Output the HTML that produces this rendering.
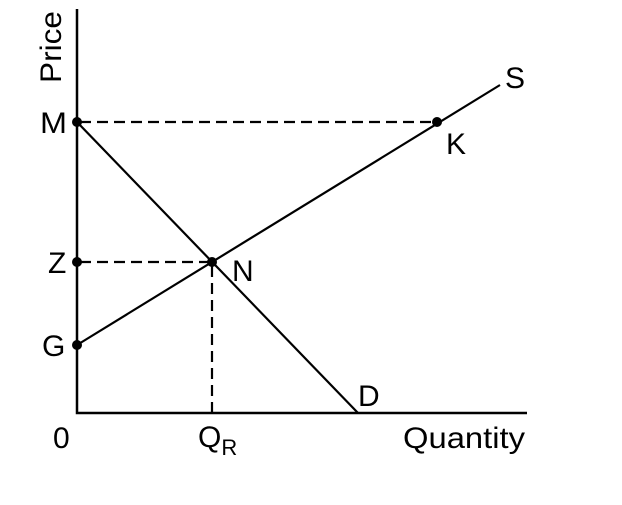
<!DOCTYPE html>
<html><head><style>body{margin:0;background:#fff}</style></head><body>
<svg width="622" height="500" xmlns="http://www.w3.org/2000/svg" font-family="Liberation Sans, sans-serif" font-size="30" fill="#000">
<g stroke="#000" fill="none">
<polyline points="77,9 77,413 527,413" stroke-width="2.5"/>
<line x1="77" y1="122" x2="358" y2="413" stroke-width="2.2"/>
<line x1="77" y1="345" x2="500" y2="85" stroke-width="2.2"/>
<g stroke-width="2.2" stroke-dasharray="11,6">
<line x1="80" y1="122" x2="437" y2="122"/>
<line x1="80" y1="262" x2="212" y2="262"/>
<line x1="212" y1="266" x2="212" y2="413"/>
</g>
</g>
<circle cx="77" cy="122" r="5"/><circle cx="437" cy="122" r="5"/>
<circle cx="77" cy="262" r="5"/><circle cx="212" cy="262" r="5"/>
<circle cx="77" cy="345" r="5"/>
<text transform="translate(61,83) rotate(-90)" textLength="72" lengthAdjust="spacingAndGlyphs">Price</text>
<text x="40" y="133" textLength="27" lengthAdjust="spacingAndGlyphs">M</text>
<text x="48" y="273">Z</text>
<text x="42" y="356">G</text>
<text x="53" y="448">0</text>
<text x="198" y="447">Q<tspan font-size="22" dy="8">R</tspan></text>
<text x="403" y="448" textLength="122" lengthAdjust="spacingAndGlyphs">Quantity</text>
<text x="358" y="406">D</text>
<text x="232" y="281">N</text>
<text x="446" y="154">K</text>
<text x="505" y="88">S</text>
</svg>
</body></html>
